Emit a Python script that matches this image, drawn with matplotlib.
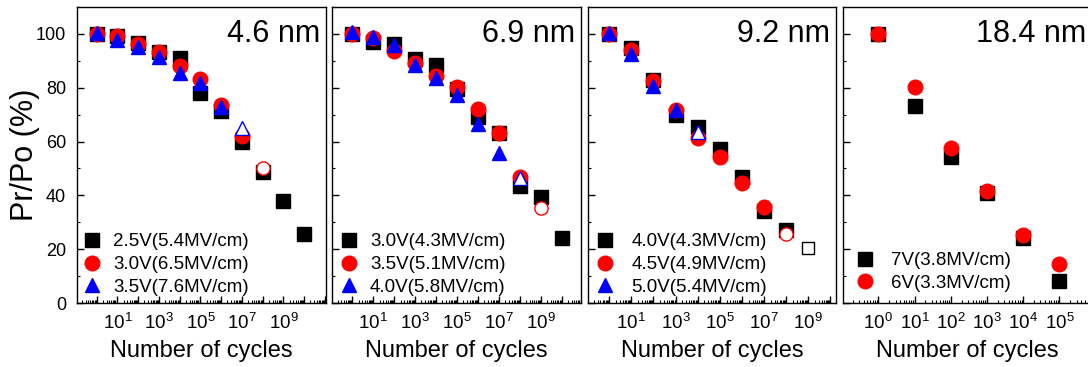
import matplotlib
matplotlib.use("Agg")
import matplotlib.pyplot as plt
import numpy as np
from matplotlib.ticker import (LogLocator, MultipleLocator,
                               FuncFormatter, NullFormatter)

plt.rcParams['font.family'] = ['Liberation Sans', 'DejaVu Sans']
plt.rcParams['mathtext.fontset'] = 'custom'
plt.rcParams['mathtext.rm'] = 'Liberation Sans'
plt.rcParams['mathtext.it'] = 'Liberation Sans:italic'
plt.rcParams['mathtext.bf'] = 'Liberation Sans:bold'

# ---------------- data ----------------
# film thickness of each panel
thickness = ['4.6 nm', '6.9 nm', '9.2 nm', '18.4 nm']

# 4.6 nm film
cyc_46_25V = [1e0, 1e1, 1e2, 1e3, 1e4, 1e5, 1e6, 1e7, 1e8, 1e9, 1e10]
pr_46_25V = [100.0, 99.3, 96.8, 93.2, 90.9, 78.0, 71.2, 59.8, 48.8, 38.0, 25.8]
cyc_46_30V = [1e0, 1e1, 1e2, 1e3, 1e4, 1e5, 1e6, 1e7, 1e8]
pr_46_30V = [99.8, 99.3, 96.2, 93.2, 87.9, 83.2, 73.5, 62.0, 50.2]
cyc_46_35V = [1e0, 1e1, 1e2, 1e3, 1e4, 1e5, 1e6, 1e7]
pr_46_35V = [100.5, 97.8, 95.3, 91.4, 85.6, 81.8, 73.0, 65.2]

# 6.9 nm film
cyc_69_30V = [1e0, 1e1, 1e2, 1e3, 1e4, 1e5, 1e6, 1e7, 1e8, 1e9, 1e10]
pr_69_30V = [100.0, 96.9, 96.3, 90.5, 88.3, 79.5, 69.2, 63.3, 43.5, 39.4, 24.0]
cyc_69_35V = [1e0, 1e1, 1e2, 1e3, 1e4, 1e5, 1e6, 1e7, 1e8, 1e9]
pr_69_35V = [100.0, 98.6, 93.7, 89.2, 84.4, 80.2, 72.2, 63.3, 46.9, 35.2]
cyc_69_40V = [1e0, 1e1, 1e2, 1e3, 1e4, 1e5, 1e6, 1e7, 1e8]
pr_69_40V = [100.6, 98.8, 96.0, 88.6, 83.6, 77.4, 66.6, 55.6, 46.6]

# 9.2 nm film
cyc_92_40V = [1e0, 1e1, 1e2, 1e3, 1e4, 1e5, 1e6, 1e7, 1e8, 1e9]
pr_92_40V = [100.0, 94.6, 83.0, 69.8, 65.3, 57.3, 46.9, 34.2, 27.3, 20.3]
cyc_92_45V = [1e0, 1e1, 1e2, 1e3, 1e4, 1e5, 1e6, 1e7, 1e8]
pr_92_45V = [100.0, 94.0, 82.5, 71.6, 61.4, 54.2, 44.7, 35.6, 25.6]
cyc_92_50V = [1e0, 1e1, 1e2, 1e3, 1e4]
pr_92_50V = [100.5, 92.5, 80.6, 71.8, 63.4]

# 18.4 nm film
cyc_184_7V = [1e0, 1e1, 1e2, 1e3, 1e4, 1e5]
pr_184_7V = [100.0, 73.3, 54.2, 41.0, 24.3, 8.2]
cyc_184_6V = [1e0, 1e1, 1e2, 1e3, 1e4, 1e5]
pr_184_6V = [100.0, 80.2, 57.7, 41.7, 25.2, 14.6]

# legend labels
labels_46 = ['2.5V(5.4MV/cm)', '3.0V(6.5MV/cm)', '3.5V(7.6MV/cm)']
labels_69 = ['3.0V(4.3MV/cm)', '3.5V(5.1MV/cm)', '4.0V(5.8MV/cm)']
labels_92 = ['4.0V(4.3MV/cm)', '4.5V(4.9MV/cm)', '5.0V(5.4MV/cm)']
labels_184 = ['7V(3.8MV/cm)', '6V(3.3MV/cm)']

# decades that carry a tick label on each panel
xlabels_thin = [1, 3, 5, 7, 9]
xlabels_thick = [0, 1, 2, 3, 4, 5]

# the last measured point of these series is drawn hollow (film broke down)
hollow_last_46 = [False, True, True]
hollow_last_69 = [False, True, True]
hollow_last_92 = [True, True, True]
hollow_last_184 = [False, False]

# ---------------- styling ----------------
styles = [('s', 'black'), ('o', 'red'), ('^', 'blue')]
style_184 = [('s', 'black'), ('o', 'red')]
msize = {'s': 9.5, 'o': 10.5, '^': 10.5}

W, H = 1088, 367
fig = plt.figure(figsize=(W / 100, H / 100), dpi=100)

def px_axes(x0, x1, y0=7, y1=303):
    return fig.add_axes([x0 / W, 1 - y1 / H, (x1 - x0) / W, (y1 - y0) / H])

panels = [
    dict(box=(77, 326), xlim=(-0.95, 11.05),
         series=[(cyc_46_25V, pr_46_25V), (cyc_46_30V, pr_46_30V), (cyc_46_35V, pr_46_35V)],
         labels=labels_46, hollow=hollow_last_46, styles=styles,
         xlab=xlabels_thin, leg=dict(x=6.0, y=7.0, pad=0.6)),
    dict(box=(332, 581), xlim=(-0.97, 10.92),
         series=[(cyc_69_30V, pr_69_30V), (cyc_69_35V, pr_69_35V), (cyc_69_40V, pr_69_40V)],
         labels=labels_69, hollow=hollow_last_69, styles=styles,
         xlab=xlabels_thin, leg=dict(x=8.0, y=7.0, pad=0.6)),
    dict(box=(588, 836), xlim=(-0.96, 10.25),
         series=[(cyc_92_40V, pr_92_40V), (cyc_92_45V, pr_92_45V), (cyc_92_50V, pr_92_50V)],
         labels=labels_92, hollow=hollow_last_92, styles=styles,
         xlab=xlabels_thin, leg=dict(x=8.0, y=7.0, pad=0.88)),
    dict(box=(843, 1092), xlim=(-0.975, 5.9),
         series=[(cyc_184_7V, pr_184_7V), (cyc_184_6V, pr_184_6V)],
         labels=labels_184, hollow=hollow_last_184, styles=style_184,
         xlab=xlabels_thick, leg=dict(x=13.0, y=11.0, pad=0.88)),
]

def sup_fmt(shown):
    def f(v, pos):
        e = int(round(np.log10(v)))
        if e not in shown:
            return ''
        return r'$\mathregular{10^{%d}}$' % e
    return f

for i, p in enumerate(panels):
    ax = px_axes(*p['box'])
    handles = []
    for (cx, cy), (mk, col), hol, lab in zip(p['series'], p['styles'], p['hollow'], p['labels']):
        cx = np.asarray(cx)
        cy = np.asarray(cy)
        n = len(cx) - 1 if hol else len(cx)
        h, = ax.plot(cx[:n], cy[:n], linestyle='none', marker=mk, ms=msize[mk],
                     mfc=col, mec=col, mew=1.0, label=lab)
        if hol:
            ax.plot(cx[n:], cy[n:], linestyle='none', marker=mk, ms=msize[mk] - 1.0,
                    mfc='white', mec=col, mew=1.0)
        handles.append(h)

    ax.set_xscale('log')
    ax.set_xlim(10 ** p['xlim'][0], 10 ** p['xlim'][1])
    ax.set_ylim(0, 110)

    ax.xaxis.set_major_locator(LogLocator(base=10, numticks=30))
    ax.xaxis.set_minor_locator(LogLocator(base=10, subs=np.arange(2, 10), numticks=30))
    ax.xaxis.set_major_formatter(FuncFormatter(sup_fmt(p['xlab'])))
    ax.xaxis.set_minor_formatter(NullFormatter())
    ax.yaxis.set_major_locator(MultipleLocator(20))
    ax.yaxis.set_minor_locator(MultipleLocator(10))

    ax.tick_params(which='both', direction='in', top=False, right=False)
    ax.tick_params(which='major', length=5, width=1.0)
    ax.tick_params(which='minor', length=2.5, width=0.8)
    ax.tick_params(axis='x', labelsize=13.5, pad=7)
    ax.tick_params(axis='y', labelsize=13, pad=8)
    for s in ax.spines.values():
        s.set_linewidth(1.0)

    if i == 0:
        ax.set_ylabel('Pr/Po (%)', fontsize=22, labelpad=-3)
    else:
        ax.set_yticklabels([])

    ax.set_xlabel('Number of cycles', fontsize=17, labelpad=5)

    ax.text(1 - 6 / 249, 1 - 12 / 296, thickness[i], transform=ax.transAxes,
            ha='right', va='top', fontsize=22)

    lg = p['leg']
    ax.legend(handles=handles, loc='lower left', frameon=False, fontsize=13.5,
              bbox_to_anchor=(lg['x'] / 249, lg['y'] / 296), borderaxespad=0,
              borderpad=0, handlelength=1.0, handletextpad=lg['pad'],
              labelspacing=0.3, numpoints=1)

fig.savefig('out.png', dpi=100)
